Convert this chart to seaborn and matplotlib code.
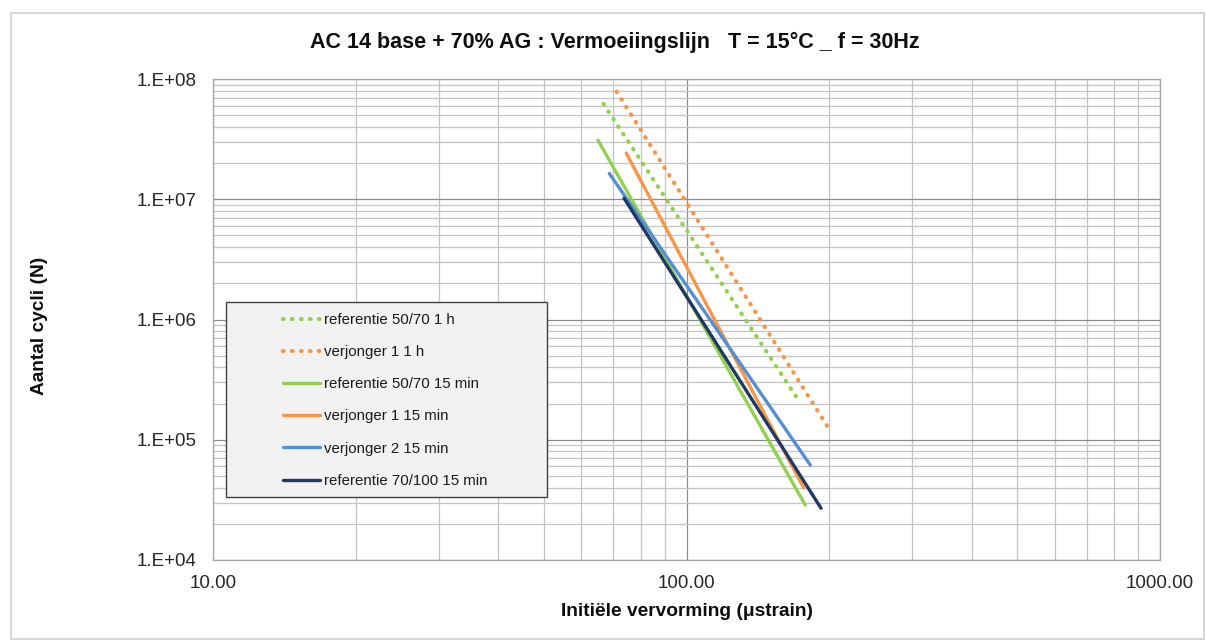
import matplotlib
matplotlib.use("Agg")
import matplotlib.pyplot as plt
import seaborn as sns
import pandas as pd
from matplotlib.patches import Rectangle
from matplotlib.ticker import LogLocator, NullFormatter

# ---- data ----
series = ["referentie 50/70 1 h", "verjonger 1 1 h", "referentie 50/70 15 min",
          "verjonger 1 15 min", "verjonger 2 15 min", "referentie 70/100 15 min"]
strain_start = [66.8, 71.2, 65.0, 74.6, 68.7, 73.8]
strain_end = [170.7, 198.7, 178.2, 176.8, 182.6, 192.4]
cycles_start = [6.2e7, 7.85e7, 3.1e7, 2.42e7, 1.64e7, 1.02e7]
cycles_end = [2.26e5, 1.28e5, 2.86e4, 3.98e4, 6.15e4, 2.69e4]
colors = ["#92D050", "#F79646", "#92D050", "#F79646", "#558ED5", "#1F3864"]
dotted = [True, True, False, False, False, False]
x_ticks = [10, 100, 1000]
x_tick_labels = ["10.00", "100.00", "1000.00"]
y_ticks = [1e4, 1e5, 1e6, 1e7, 1e8]
y_tick_labels = ["1.E+04", "1.E+05", "1.E+06", "1.E+07", "1.E+08"]
title = "AC 14 base + 70% AG : Vermoeiingslijn   T = 15°C _ f = 30Hz"
xlabel = "Initiële vervorming (μstrain)"
ylabel = "Aantal cycli (N)"

rows = []
for s, x0, x1, y0, y1 in zip(series, strain_start, strain_end, cycles_start, cycles_end):
    rows.append({"series": s, "strain": x0, "cycles": y0})
    rows.append({"series": s, "strain": x1, "cycles": y1})
df = pd.DataFrame(rows)

sns.set_theme(style="white")
plt.rcParams["font.family"] = ["Liberation Sans", "DejaVu Sans"]

W, H = 1206, 641
fig = plt.figure(figsize=(W / 100, H / 100), dpi=100)
fig.patch.set_facecolor("white")
fig.patches.append(Rectangle((11 / W, 1 - 639 / H), (1204 - 11) / W, (639 - 13) / H,
                             transform=fig.transFigure, fill=False,
                             edgecolor="#d0d0d0", lw=1.2))

ax = fig.add_axes([213 / W, 1 - 560 / H, (1160 - 213) / W, (560 - 79) / H])

palette = dict(zip(series, colors))
dashes = {s: ((0.15, 2.0) if d else "") for s, d in zip(series, dotted)}
sns.lineplot(data=df, x="strain", y="cycles", hue="series", style="series",
             hue_order=series, style_order=series, palette=palette, dashes=dashes,
             estimator=None, sort=False, lw=2.4, legend=False, ax=ax)
for line, d in zip(ax.lines, dotted):
    line.set_solid_capstyle("round")
    line.set_dash_capstyle("round")
    line.set_linewidth(3.0 if d else 2.4)

ax.set_xscale("log")
ax.set_yscale("log")
ax.set_xlim(10, 1000)
ax.set_ylim(1e4, 1e8)
ax.set_xticks(x_ticks, x_tick_labels)
ax.set_yticks(y_ticks, y_tick_labels)
ax.xaxis.set_minor_locator(LogLocator(base=10, subs=range(2, 10), numticks=20))
ax.yaxis.set_minor_locator(LogLocator(base=10, subs=range(2, 10), numticks=20))
ax.xaxis.set_minor_formatter(NullFormatter())
ax.yaxis.set_minor_formatter(NullFormatter())
ax.tick_params(which="both", length=0, labelsize=13.5, labelcolor="#262626")
ax.tick_params(axis="x", pad=10.5)
ax.tick_params(axis="y", pad=12)
ax.set_axisbelow(True)
ax.grid(which="major", color="#8c8c8c", lw=0.9)
ax.grid(which="minor", color="#c4c4c4", lw=0.9)
for sp in ax.spines.values():
    sp.set_color("#a6a6a6")
    sp.set_linewidth(0.9)
ax.set_xlabel("")
ax.set_ylabel("")

fig.text(615 / W, 1 - 42 / H, title, ha="center", va="center",
         fontsize=15.5, fontweight="bold", color="#0d0d0d")
fig.text(687 / W, 1 - 611 / H, xlabel, ha="center", va="center",
         fontsize=13.8, fontweight="bold", color="#0d0d0d")
fig.text(40 / W, 1 - 326 / H, ylabel, ha="center", va="center", rotation=90,
         fontsize=13.8, fontweight="bold", color="#0d0d0d")

# legend box
ax.add_patch(Rectangle((226 / W, 1 - 497 / H), (547 - 226) / W, (497 - 302) / H,
                       transform=fig.transFigure, facecolor="#f2f2f2",
                       edgecolor="#404040", lw=1.0, zorder=4, clip_on=False))
leg = ax.legend(ax.lines, series, loc="upper left",
                bbox_to_anchor=(283 / W, 1 - 313 / H), bbox_transform=fig.transFigure,
                frameon=False, borderpad=0, borderaxespad=0, fontsize=10.8,
                labelspacing=1.21, handlelength=2.45, handletextpad=0.25,
                labelcolor="#1a1a1a")
leg.set_zorder(5)

fig.savefig("out.png", dpi=100)
